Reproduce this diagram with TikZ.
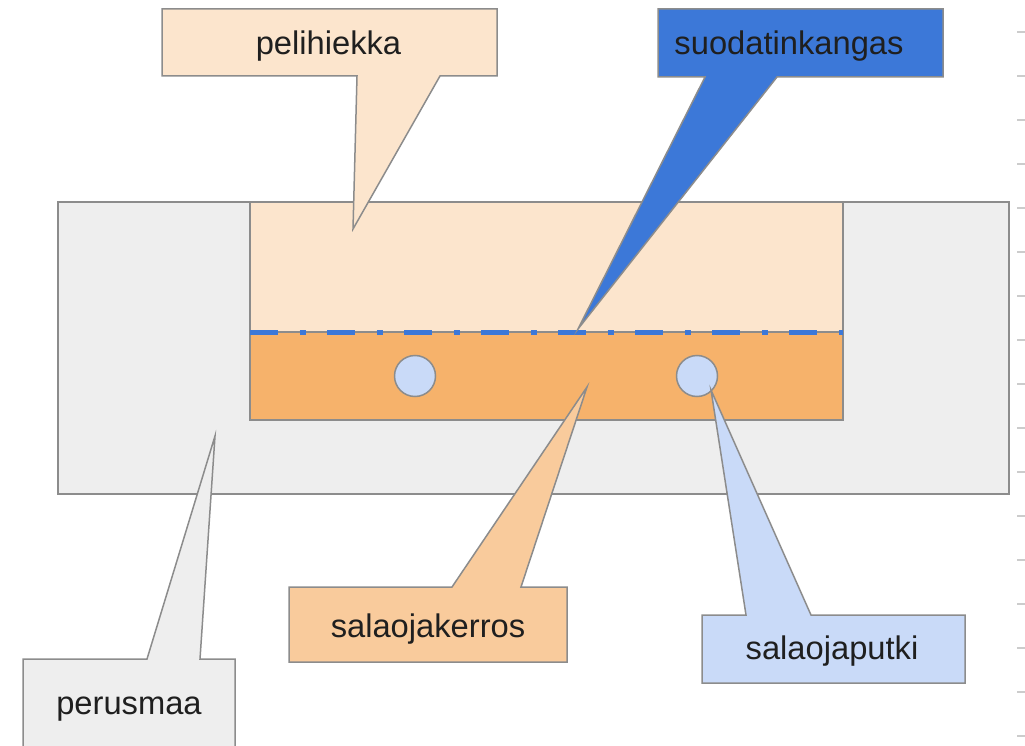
\documentclass[tikz,border=0pt]{standalone}
\usepackage{fontspec}
\setmainfont{Liberation Sans}
\usetikzlibrary{positioning}
\definecolor{soil}{HTML}{EEEEEE}
\definecolor{sand}{HTML}{FCE5CD}
\definecolor{gravel}{HTML}{F6B26B}
\definecolor{gravellight}{HTML}{F9CB9C}
\definecolor{fabric}{HTML}{3C78D8}
\definecolor{pipe}{HTML}{C9DAF8}
\definecolor{edge}{HTML}{8C8C8C}
\definecolor{tick}{HTML}{CCCCCC}
\begin{document}
\begin{tikzpicture}[x=1pt,y=-1pt,line join=miter,
  box/.style={draw=edge,line width=1.5pt},
  word/.style={font=\fontsize{32.7}{39}\selectfont,text=black!88,anchor=base,inner sep=0pt},
  filterline/.style={draw=fabric,line width=5pt,dash pattern=on 27.5pt off 22pt on 6.5pt off 21pt}]
\useasboundingbox (0,0) rectangle (1025,746);
\foreach \k in {0,...,16} \draw[tick,line width=1.5pt] (1017,32+44*\k) -- (1025,32+44*\k);
\draw[box,fill=soil] (58,202) rectangle (1009,494);
\draw[box,fill=sand] (250,202) rectangle (843,332);
\draw[box,fill=gravel] (250,332) rectangle (843,420);
\draw[filterline] (250,332) -- (843,332);
\node[box,fill=pipe,circle,minimum size=41pt,inner sep=0pt] (pipeL) at (415,376) {};
\node[box,fill=pipe,circle,minimum size=41pt,inner sep=0pt] (pipeR) at (697,376) {};
\coordinate (tipPeli) at (353,229);
\coordinate (tipSuoda) at (578,329);
\coordinate (tipPerus) at (215,436);
\coordinate (tipKerros) at (587,387);
\coordinate (tipPutki) at (711,390);
\draw[box,fill=sand] (162,9) -- (497,9) -- (497,76) -- (440,76) -- (tipPeli) -- (357,76) -- (162,76) -- cycle;
\draw[box,fill=fabric] (658,9) -- (943,9) -- (943,77) -- (777,77) -- (tipSuoda) -- (705,77) -- (658,77) -- cycle;
\draw[box,fill=soil] (23,659) -- (147,659) -- (tipPerus) -- (200,659) -- (235,659) -- (235,752) -- (23,752) -- cycle;
\draw[box,fill=gravellight] (289,587) -- (452,587) -- (tipKerros) -- (521,587) -- (567,587) -- (567,662) -- (289,662) -- cycle;
\draw[box,fill=pipe] (702,615) -- (746,615) -- (tipPutki) -- (811,615) -- (965,615) -- (965,683) -- (702,683) -- cycle;
\node[word] (pelihiekka) at (328.5,55) {pelihiekka};
\node[word] (suodatinkangas) at (789,55) {suodatinkangas};
\node[word] (perusmaa) at (129,714) {perusmaa};
\node[word] (salaojakerros) at (428,637) {salaojakerros};
\node[word] (salaojaputki) at (832,659) {salaojaputki};
\end{tikzpicture}
\end{document}
